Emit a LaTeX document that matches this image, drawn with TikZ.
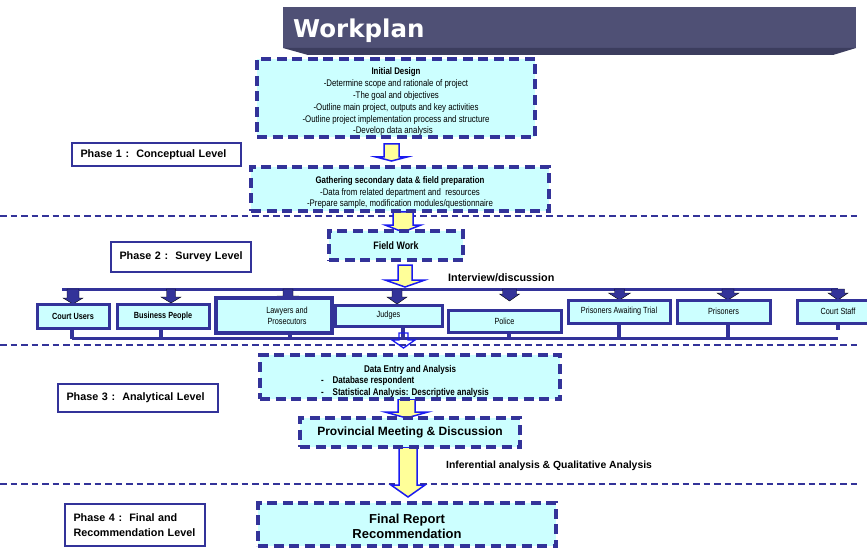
\documentclass[tikz,border=0pt]{standalone}
\usepackage{fontspec}
\setmainfont{Liberation Sans}
\newfontfamily\wpfont{DejaVu Sans}
\newfontfamily\narrowfont[FakeStretch=0.82]{Liberation Sans}
\usetikzlibrary{arrows.meta}
\definecolor{boxfill}{HTML}{CCFFFF}
\definecolor{dblue}{HTML}{333399}
\definecolor{ayellow}{HTML}{FFFF99}
\definecolor{ablue}{HTML}{1A1AF0}
\definecolor{bannerc}{HTML}{4F5075}
\definecolor{bannerd}{HTML}{3C3D5E}
\newcommand\fs[2]{\fontsize{#1}{#2}\selectfont}
\newcommand\blockarrow[7][]{%
  \draw[#1] (#2-#6,#3) -- (#2+#6,#3) -- (#2+#6,#4) -- (#2+#7,#4) -- (#2,#5) -- (#2-#7,#4) -- (#2-#6,#4) -- cycle;}
\tikzset{
  dashbox/.style={draw=dblue, fill=boxfill, line width=3.1pt, dash pattern=on 10pt off 5.5pt, inner sep=1pt, align=center},
  boxtext/.style={align=center, inner sep=0pt, text=black},
  phasebox/.style={draw=dblue, fill=white, line width=1.2pt, inner xsep=8.5pt, inner ysep=1pt, align=left, font=\bfseries\fs{10.8}{15}},
  grpbox/.style={draw=dblue, fill=boxfill, line width=3pt, align=center, inner sep=1pt, font=\narrowfont\fs{8.9}{11}},
  sepline/.style={draw=dblue, line width=1.3pt, dash pattern=on 6.5pt off 4pt},
  yarrow/.style={draw=ablue, fill=ayellow, line width=1.5pt, line join=miter},
  oarrow/.style={draw=ablue, line width=1.3pt, line join=miter},
  darr/.style={fill=dblue},
  barline/.style={draw=dblue, line width=3pt},
  stub/.style={draw=dblue, line width=4.5pt},
  lbl/.style={font=\bfseries\fs{10.8}{13}, inner sep=0pt}
}
\begin{document}
\begin{tikzpicture}[x=1pt,y=-1pt]
\clip (0,0) rectangle (867,548);
\fill[white] (0,0) rectangle (867,548);

% phase separators
\coordinate (s1l) at (0,216); \coordinate (s1r) at (857,216);
\coordinate (s2l) at (0,345); \coordinate (s2r) at (857,345);
\coordinate (s3l) at (0,484); \coordinate (s3r) at (857,484);
\draw[sepline] (s1l) -- (s1r);
\draw[sepline] (s2l) -- (s2r);
\draw[sepline] (s3l) -- (s3r);

% yellow block arrows
\blockarrow[yarrow]{391.5}{144}{157}{161}{7.5}{15.5}
\blockarrow[yarrow]{403}{212}{225}{232}{10}{18}
\blockarrow[yarrow]{405}{265}{280}{287}{7}{20}
\blockarrow[yarrow]{406.5}{399}{412}{418}{8.5}{21.5}
\blockarrow[yarrow]{408}{447}{485}{497}{9}{17}

% banner
\fill[bannerc] (283,7) rectangle (856,48);
\fill[bannerd] (283,48) -- (856,48) -- (833,55) -- (308,55) -- cycle;
\node[anchor=base west, inner sep=0pt, text=white, font=\wpfont\bfseries\fs{24.5}{28}] (title) at (293,37.5) {Workplan};

% main boxes
\node[dashbox, minimum width=278pt, minimum height=78pt,
  label={[boxtext, font=\narrowfont\fs{9.6}{11.8}, yshift=-4pt]center:{\textbf{Initial Design}\\-Determine scope and rationale of project\hspace*{28pt}\\-The goal and objectives\\-Outline main project, outputs and key activities\\-Outline project implementation process and structure\\-Develop data analysis\hspace*{6pt}}}] (init) at (396,98) {};
\node[dashbox, minimum width=298pt, minimum height=44pt,
  label={[boxtext, font=\narrowfont\fs{9.6}{11.5}, yshift=-4pt]center:{\textbf{Gathering secondary data \& field preparation}\\-Data from related department and\ \ resources\hspace*{32pt}\\-Prepare sample, modification modules/questionnaire}}] (gather) at (400,189) {};
\node[dashbox, minimum width=134pt, minimum height=29pt, font=\narrowfont\bfseries\fs{10.8}{11}] (field) at (396,245.5) {Field Work};
\node[dashbox, minimum width=300pt, minimum height=44pt,
  label={[boxtext, font=\narrowfont\bfseries\fs{9.8}{11.5}, yshift=-4pt]center:{Data Entry and Analysis\\\makebox[178pt][l]{-\hspace{9pt}Database respondent}\\\makebox[178pt][l]{-\hspace{9pt}Statistical Analysis: Descriptive analysis}}}] (entry) at (410,377) {};
\node[dashbox, minimum width=220pt, minimum height=29pt, font=\bfseries\fs{12}{14}] (prov) at (410,432.5) {Provincial Meeting \& Discussion};
\node[dashbox, minimum width=298pt, minimum height=43pt,
  label={[boxtext, font=\bfseries\fs{13}{15}, yshift=-2pt]center:{Final Report\\Recommendation}}] (final) at (407,524.5) {};

% phase labels
\node[phasebox, minimum width=169pt, minimum height=23pt, text width=152pt] (p1) at (156.5,154.5) {\mbox{Phase 1 :\ \ Conceptual Level}};
\node[phasebox, minimum width=140pt, minimum height=30pt, text width=123pt] (p2) at (181,257) {\mbox{Phase 2 :\ \ Survey Level}};
\node[phasebox, minimum width=160pt, minimum height=28pt, text width=143pt] (p3) at (138,398) {\mbox{Phase 3 :\ \ Analytical Level}};
\node[phasebox, minimum width=140pt, minimum height=42pt, text width=123pt] (p4) at (135,525) {\mbox{Phase 4 :\ \ Final and}\\\mbox{Recommendation Level}};

% survey group bars
\coordinate (tbl) at (62,289); \coordinate (tbr) at (838,289);
\coordinate (bbl) at (72,338.5); \coordinate (bbr) at (838,338.5);
\draw[barline] (tbl) -- (tbr);
\draw[barline] (bbl) -- (bbr);

% dark arrows from the top bar
\blockarrow[darr]{73}{289}{298}{304}{6}{10}
\blockarrow[darr]{171}{289}{297}{303}{4.5}{10}
\blockarrow[darr]{288}{289}{296}{300}{5}{10}
\blockarrow[darr]{397}{289}{297}{304}{5}{10}
\blockarrow[darr]{509.5}{289}{294}{301}{7}{10}
\blockarrow[darr]{619.5}{289}{293}{300}{5}{11}
\blockarrow[darr]{728}{289}{293}{300}{6}{11}
\blockarrow[darr]{838}{289}{293}{300}{6.5}{10}

% group boxes
\node[grpbox, minimum width=72pt, minimum height=24pt, font=\narrowfont\bfseries\fs{8.9}{11}] (cu) at (73,316) {Court Users};
\node[grpbox, minimum width=92pt, minimum height=24pt, font=\narrowfont\bfseries\fs{8.9}{11}] (bp) at (163,316) {Business People};
\node[grpbox, minimum width=116pt, minimum height=35pt, line width=3.5pt] (lp) at (274,315.5) {\hspace*{26pt}Lawyers and\\\hspace*{26pt}Prosecutors};
\node[grpbox, minimum width=107pt, minimum height=21pt] (ju) at (388.5,315.5) {Judges};
\node[grpbox, minimum width=113pt, minimum height=22pt] (po) at (504.5,321) {Police};
\node[grpbox, minimum width=102pt, minimum height=23pt] (pat) at (619,311.5) {Prisoners Awaiting Trial};
\node[grpbox, minimum width=93pt, minimum height=23pt] (pr) at (723.5,311.5) {Prisoners};
\node[grpbox, minimum width=82pt, minimum height=23pt] (cs) at (838,311.5) {Court Staff};

% stubs from boxes to the bottom bar
\coordinate (b1) at (72,338.5); \coordinate (b2) at (161,338.5);
\coordinate (b3) at (290,338.5); \coordinate (b4) at (403,338.5);
\coordinate (b5) at (509,338.5); \coordinate (b6) at (619,338.5);
\coordinate (b7) at (728,338.5); \coordinate (b8) at (838,330);
\draw[stub] (b1 |- cu.south) -- (b1);
\draw[stub] (b2 |- bp.south) -- (b2);
\draw[stub] (b3 |- lp.south) -- (b3);
\draw[stub] (b4 |- ju.south) -- (b4);
\draw[stub] (b5 |- po.south) -- (b5);
\draw[stub] (b6 |- pat.south) -- (b6);
\draw[stub] (b7 |- pr.south) -- (b7);
\draw[stub] (b8 |- cs.south) -- (b8);

% small outlined arrow down from the survey level
\blockarrow[oarrow]{403.5}{333}{340}{348}{4.5}{11.5}

% connector labels
\node[lbl, anchor=base west] (iv) at (448,281) {Interview/discussion};
\node[lbl, anchor=base west, font=\bfseries\fs{10.4}{12}] (inf) at (446,468) {Inferential analysis \& Qualitative Analysis};
\end{tikzpicture}
\end{document}
